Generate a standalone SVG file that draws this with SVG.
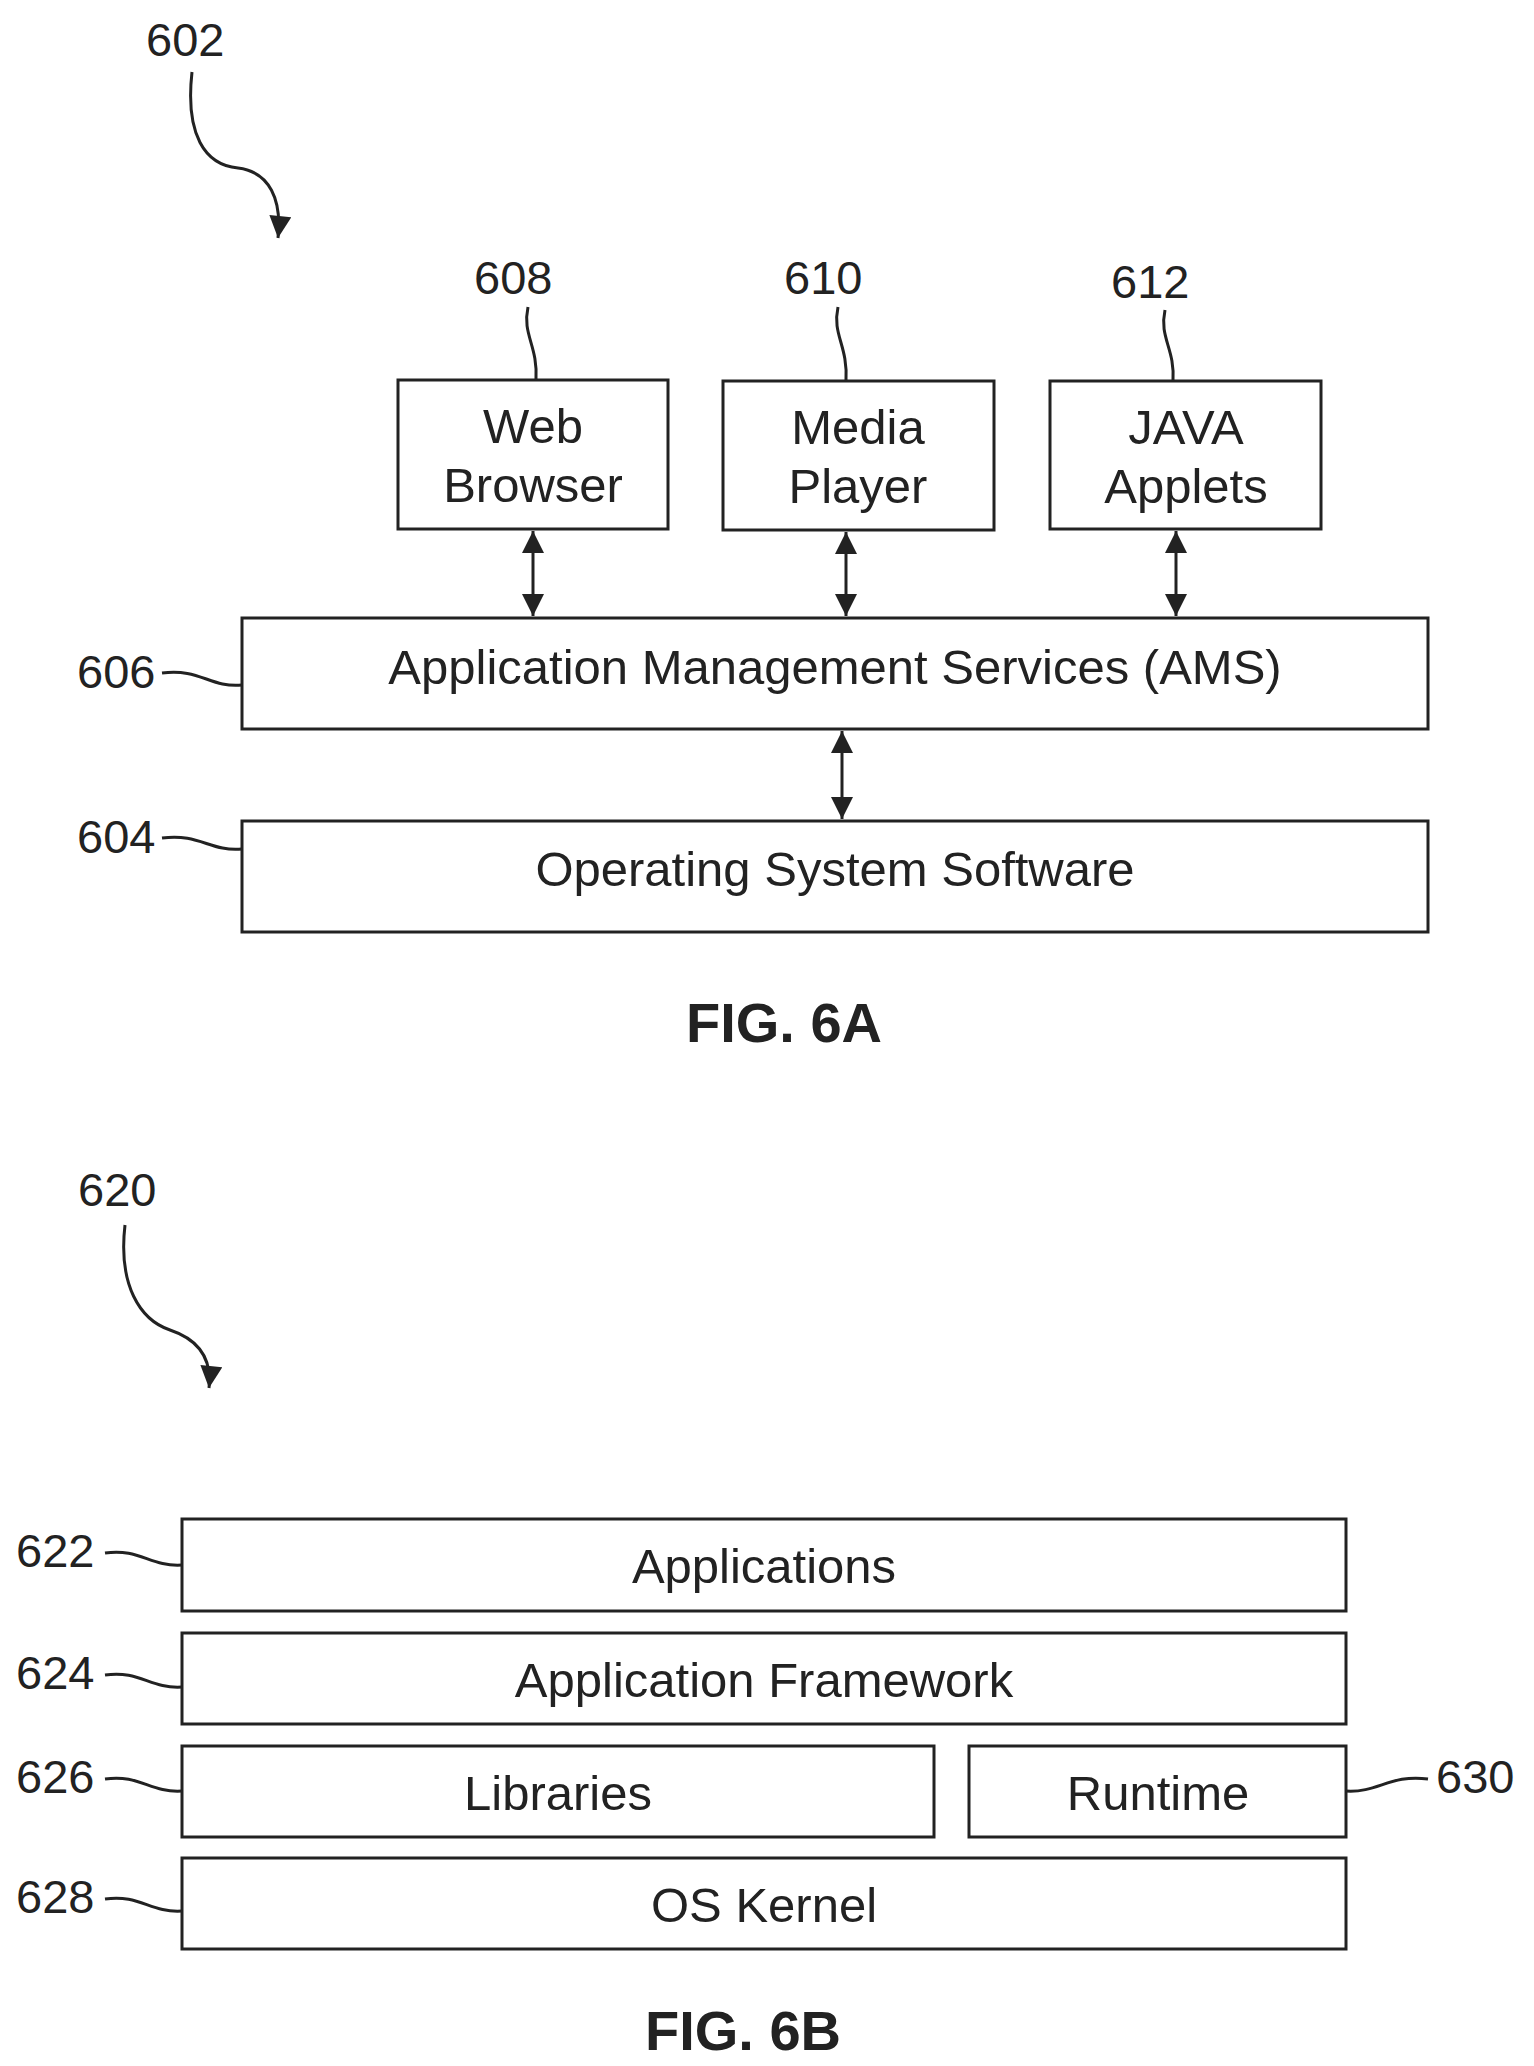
<svg xmlns="http://www.w3.org/2000/svg" width="1534" height="2066" viewBox="0 0 1534 2066">
<style>
.b{fill:#fff;stroke:#222;stroke-width:3}
.t{font-family:"Liberation Sans",Arial,sans-serif;font-size:49px;fill:#222;text-anchor:middle}
.n{font-family:"Liberation Sans",Arial,sans-serif;font-size:47px;fill:#222}
.f{font-family:"Liberation Sans",Arial,sans-serif;font-size:56px;font-weight:bold;fill:#222;text-anchor:middle}
.l{fill:none;stroke:#222;stroke-width:3}
</style>
<defs>
<marker id="h" viewBox="0 0 10 10" refX="10" refY="5" markerWidth="24" markerHeight="22" orient="auto-start-reverse" markerUnits="userSpaceOnUse"><path d="M0,0L10,5L0,10z" fill="#222"/></marker>
</defs>
<rect width="1534" height="2066" fill="#fff"/>
<text class="n" x="146" y="56">602</text>
<path class="l" d="M192,72 C185,135 205,165 238,168 C270,172 282,200 278,238" marker-end="url(#h)"/>
<g id="n608"><rect class="b" x="398" y="380" width="270" height="149"/><text class="t" x="533" y="443">Web</text><text class="t" x="533" y="502">Browser</text><text class="n" x="474" y="294">608</text><path class="l" d="M528,307 C522,335 538,345 536,380"/></g>
<g id="n610"><rect class="b" x="723" y="381" width="271" height="149"/><text class="t" x="858" y="444">Media</text><text class="t" x="858" y="503">Player</text><text class="n" x="784" y="294">610</text><path class="l" d="M838,307 C832,335 848,345 846,381"/></g>
<g id="n612"><rect class="b" x="1050" y="381" width="271" height="148"/><text class="t" x="1186" y="444">JAVA</text><text class="t" x="1186" y="503">Applets</text><text class="n" x="1111" y="298">612</text><path class="l" d="M1165,310 C1159,338 1175,348 1173,381"/></g>
<g id="n606"><rect class="b" x="242" y="618" width="1186" height="111"/><text class="t" x="835" y="684">Application Management Services (AMS)</text><text class="n" x="77" y="688">606</text><path class="l" d="M162,673 C200,668 210,688 242,685"/></g>
<g id="n604"><rect class="b" x="242" y="821" width="1186" height="111"/><text class="t" x="835" y="886">Operating System Software</text><text class="n" x="77" y="853">604</text><path class="l" d="M162,838 C200,833 210,852 242,849"/></g>
<g id="connectors">
<line class="l" x1="533" y1="531" x2="533" y2="616" marker-start="url(#h)" marker-end="url(#h)"/>
<line class="l" x1="846" y1="532" x2="846" y2="616" marker-start="url(#h)" marker-end="url(#h)"/>
<line class="l" x1="1176" y1="531" x2="1176" y2="616" marker-start="url(#h)" marker-end="url(#h)"/>
<line class="l" x1="842" y1="731" x2="842" y2="819" marker-start="url(#h)" marker-end="url(#h)"/>
</g>
<text class="f" x="784" y="1042">FIG. 6A</text>
<text class="n" x="78" y="1206">620</text>
<path class="l" d="M125,1225 C118,1285 140,1320 170,1330 C200,1340 212,1360 209,1388" marker-end="url(#h)"/>
<g id="n622"><rect class="b" x="182" y="1519" width="1164" height="92"/><text class="t" x="764" y="1583">Applications</text><text class="n" x="16" y="1567">622</text><path class="l" d="M105,1553 C140,1548 150,1567 182,1565"/></g>
<g id="n624"><rect class="b" x="182" y="1633" width="1164" height="91"/><text class="t" x="764" y="1697">Application Framework</text><text class="n" x="16" y="1689">624</text><path class="l" d="M105,1675 C140,1670 150,1689 182,1687"/></g>
<g id="n626"><rect class="b" x="182" y="1746" width="752" height="91"/><text class="t" x="558" y="1810">Libraries</text><text class="n" x="16" y="1793">626</text><path class="l" d="M105,1779 C140,1774 150,1793 182,1791"/></g>
<g id="n630"><rect class="b" x="969" y="1746" width="377" height="91"/><text class="t" x="1158" y="1810">Runtime</text><text class="n" x="1436" y="1793">630</text><path class="l" d="M1346,1791 C1378,1793 1390,1774 1428,1779"/></g>
<g id="n628"><rect class="b" x="182" y="1858" width="1164" height="91"/><text class="t" x="764" y="1922">OS Kernel</text><text class="n" x="16" y="1913">628</text><path class="l" d="M105,1899 C140,1894 150,1913 182,1911"/></g>
<text class="f" x="743" y="2050">FIG. 6B</text>
</svg>
